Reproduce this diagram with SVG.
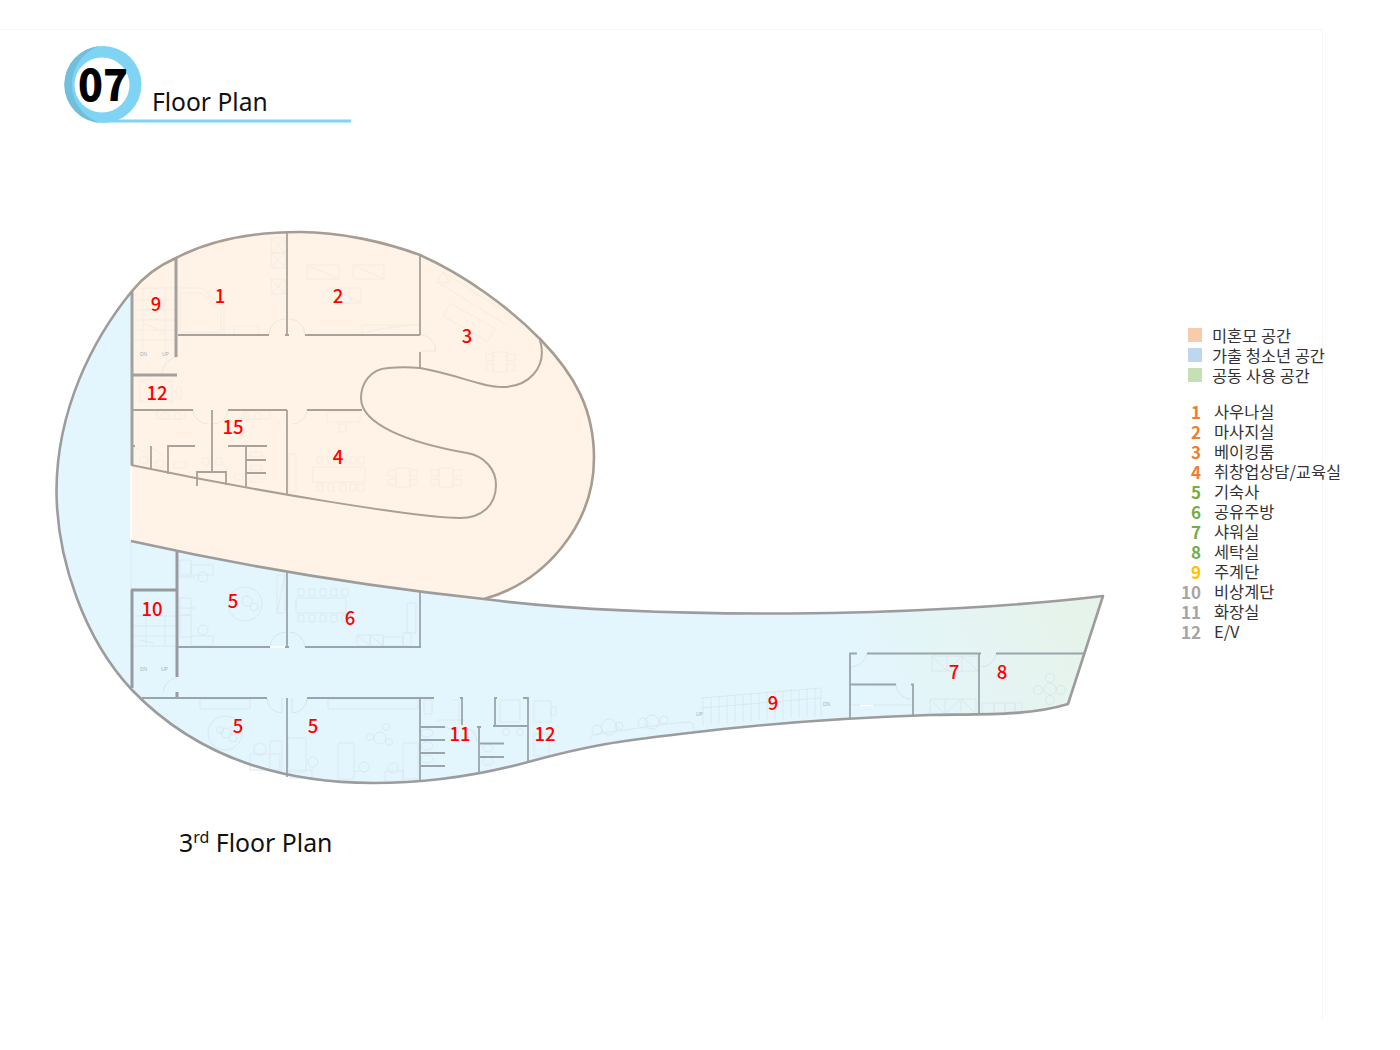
<svg xmlns="http://www.w3.org/2000/svg" width="1400" height="1050" viewBox="0 0 1400 1050">
<defs>
<linearGradient id="blueGreen" gradientUnits="userSpaceOnUse" x1="860" y1="700" x2="1095" y2="590">
<stop offset="0" stop-color="#e3f6fe"/><stop offset="1" stop-color="#e7f3e8"/>
</linearGradient>
<style>
.w1{fill:none;stroke:#a8a29a;stroke-width:1.800}
.w2{fill:none;stroke:#a3a19f;stroke-width:3}
.b1{fill:none;stroke:#99a5ab;stroke-width:1.800}
.b2{fill:none;stroke:#979b9e;stroke-width:3}
.out{fill:none;stroke:#9c9c9c;stroke-width:2.600;stroke-linejoin:round}
.oub{fill:none;stroke:#a69c92;stroke-width:2.600}
.ous{fill:none;stroke:#ab9f94;stroke-width:2}
.fb{fill:none;stroke:#f5ece1;stroke-width:1}
.fl{fill:none;stroke:#d9e8ef;stroke-width:1}
.dr{fill:none;stroke:#f0e6da;stroke-width:1}
.dl{fill:none;stroke:#d6e5ec;stroke-width:1}
.n{font-family:"Noto Sans CJK KR","Noto Sans",sans-serif;font-size:18.500px;font-weight:500;fill:#f00;text-anchor:middle}
.l{font-family:"Noto Sans CJK KR","Noto Sans",sans-serif;font-size:16.400px;fill:#333}
.k{font-family:"Noto Sans CJK KR","Noto Sans",sans-serif;font-size:17px;font-weight:700;text-anchor:end}
.t{font-family:"Noto Sans","Open Sans",sans-serif;fill:#111}
.s{font-family:"Liberation Sans",sans-serif;font-size:5px;fill:#a9b4b9}
</style>
</defs>
<rect width="1400" height="1050" fill="#fff"/>
<path id="page-frame" d="M0 29.500H1322.500V1020" fill="none" stroke="#f6f6f6" stroke-width="1"/>

<g id="heading">
<circle cx="103" cy="84.500" r="38.500" fill="#7fd4f3"/>
<path d="M100 46.100A38.500 38.500 0 0 0 100 122.900A40.300 40.300 0 0 1 100 46.100Z" fill="#70bfdc"/>
<circle cx="102" cy="85" r="27.500" fill="#fff"/>
<rect x="103" y="119.500" width="248" height="3" fill="#7fd4f3"/>
<text x="78" y="101" font-size="44" font-weight="900" fill="#000" style="font-family:'Noto Sans CJK KR','Noto Sans',sans-serif" textLength="50" lengthAdjust="spacingAndGlyphs">07</text>
<text class="t" x="152" y="111" font-size="24.600">Floor Plan</text>
</g>

<g id="plan">
<path id="blue-zone" d="M132 291C92 340 57 410 56.500 490C56.500 560 85 640 132 690C185 745 260 783 373 783C430 783 480 775 528 762C590 745 620 741 680 734C760 724 840 718 930 715C980 714 1030 716 1068 704L1103 596C1020 606 900 613 790 613.500C670 614 560 609 484 599L131 541V291Z" fill="url(#blueGreen)"/>
<path id="beige-zone" d="M131 291C145 273 160 265 176 258C210 240 250 232 300 232C340 232 385 242 420 255C465 275 510 308 541 340C575 375 594 410 594 458C594 525 545 582 484 599C400 590 270 570 131 541Z" fill="#fef3e6"/>
<path d="M131 465V541" stroke="#fff" stroke-width="1.500" fill="none"/>

<g id="furniture-beige">
<path class="fb" d="M271 238h14v15h-14zM271 253h14v15h-14zM271 279h14v15h-14zM271 238l14 15M285 238l-14 15M271 253l14 15M285 253l-14 15M271 279l14 15M285 279l-14 15"/>
<path class="fb" d="M178 288h24l22 20v26h-46zM180 293h21l20 18v21h-41zM234 326h25v9h-25z"/>
<path class="fb" d="M307 265h32v14h-32zM307 265l32 14M353 265h31v14h-31zM353 265l31 14M331 288h30v15h-30zM331 288l30 15M362 325h58v10h-58zM362 333c20 -5 40 -7 58 -8"/>
<path class="fb" d="M436.700 281.700L443.300 272.300L512.700 316.700L506.700 325ZM436.700 281.700L450 283L443.300 272.300M450 303.300L495 328.300L487.700 341.700L443.300 316ZM493 352h14v20h-14zM486 354h7v7h-7zM486 364h7v7h-7zM507 354h8v7h-8zM507 364h8v7h-8z"/>
<path class="fb" d="M396 468h14v19h-14zM439 468h14v19h-14zM396 470h-8v6h8zM396 479h-8v6h8zM410 470h7v6h-7zM410 479h7v6h-7zM439 470h-8v6h8zM439 479h-8v6h8zM453 470h8v6h-8zM453 479h8v6h-8z"/>
<path class="fb" d="M313 467h52v15h-52zM317 457h6v7h-6zM328 457h6v7h-6zM340 457h6v7h-6zM350 457h6v7h-6zM358 457h6v7h-6zM317 484h6v7h-6zM328 484h6v7h-6zM340 484h6v7h-6zM350 484h6v7h-6zM358 484h6v7h-6zM289 454h7v38h-7z"/>
<path class="fb" d="M327 412h33v10h-33zM339 424h7v8h-7z"/>
<path class="fb" d="M140 380h32v22h-32zM140 380l32 22M172 380l-32 22M177 387h4v12h-4z"/>
<path class="fb" d="M157 411h28v8h-28zM245 411h25v8h-25zM276 420l5 7"/>
<circle class="fb" cx="165" cy="416" r="3.500"/><circle class="fb" cx="178" cy="416" r="3.500"/><circle class="fb" cx="245" cy="416" r="3.500"/><circle class="fb" cx="258" cy="416" r="3.500"/>
<path class="fb" d="M140 288h33M143 288v62M165 288v62M134 300h42M134 310h42M134 320h42M134 330h42M134 340h42M143 323l21 9"/>
<path class="fb" d="M140 463h8v-6h-8zM156 467h8v-6h-8zM174 468h12v-6h-12zM203 465h6v-7h-6zM216 465h6v-7h-6zM235 480h8v-6h-8zM250 452h12v5h-12zM250 465h12v5h-12zM250 477h12v5h-12z"/>
<path class="fb" d="M133 447l10 4M151 447l12 8"/>
</g>
<g id="doors-beige">
<path class="dr" d="M269 335A16 16 0 0 1 285 319M305 335A16 16 0 0 0 289 319M177 357A18 18 0 0 0 162 375"/>
<path class="dr" d="M193 410A15 15 0 0 0 208 424M228 410A15 15 0 0 1 213 424M307 410A15 15 0 0 1 292 424M420 335A16 16 0 0 1 436 351H420"/>
</g>

<g id="furniture-blue">
<path class="fl" d="M180 560h11v15h-11zM191 565h22v10h-22zM180 598h11v17h-11zM180 615h11v22h-11zM191 636h22v10h-22zM177 577h18M177 608h18"/>
<circle class="fl" cx="203" cy="577" r="5"/><circle class="fl" cx="203" cy="630" r="5"/>
<circle class="fl" cx="245" cy="604" r="17"/><circle class="fl" cx="247" cy="601" r="5"/><circle class="fl" cx="254" cy="607" r="4"/>
<path class="fl" d="M277 575h8v38h-8zM277 613l8 -38"/>
<path class="fl" d="M296 598h50v15h-50zM298 589h6v7h-6zM309 589h6v7h-6zM320 589h6v7h-6zM331 589h6v7h-6zM342 589h6v7h-6zM298 615h6v7h-6zM309 615h6v7h-6zM320 615h6v7h-6zM331 615h6v7h-6zM342 615h6v7h-6z"/>
<path class="fl" d="M357 635h13v11h-13zM370 635h13v11h-13zM357 635l13 11M370 635l13 11M383 637h20v9h-20zM403 633h8v13h-8zM407 603h9v30h-9z"/>
<path class="fl" d="M131 543v47M132 616h43M146 616v30M165 616v30M132 626h43M132 636h43M132 646h43M139 640l15 3"/>
<path class="fl" d="M200 699h50v10h-50zM328 699h90v10h-90z"/>
<circle class="fl" cx="225" cy="733" r="17"/><circle class="fl" cx="226" cy="733" r="5"/><circle class="fl" cx="233" cy="738" r="4"/><circle class="fl" cx="220" cy="730" r="3.500"/>
<path class="fl" d="M270 741h12v30h-12zM250 754h30v16h-30z"/>
<circle class="fl" cx="260" cy="749" r="6"/>
<path class="fl" d="M288 738h18v34h-18zM290 770h22v8h-22z"/>
<circle class="fl" cx="313" cy="762" r="5"/>
<path class="fl" d="M338 743h16v36h-16zM354 771h6"/><circle class="fl" cx="364" cy="767" r="5"/><circle class="fl" cx="393" cy="768" r="5"/>
<path class="fl" d="M403 743h15v36h-15zM385 771h18v10h-18z"/>
<circle class="fl" cx="380" cy="738" r="6"/><circle class="fl" cx="370" cy="737" r="3.500"/><circle class="fl" cx="386" cy="727" r="3.500"/><circle class="fl" cx="389" cy="742" r="3.500"/>
<path class="fl" d="M424 700h8v14h-8zM437 720h28M453 700h6v24"/>
<ellipse class="fl" cx="427" cy="746" rx="6" ry="4"/><ellipse class="fl" cx="427" cy="733" rx="6" ry="4"/><ellipse class="fl" cx="427" cy="759" rx="6" ry="4"/>
<path class="fl" d="M500 700h20v22h-20zM534 701h17v21h-17zM534 734h15v22h-15zM551 707h5v8h-5z"/>
<circle class="fl" cx="506" cy="732" r="3.500"/><circle class="fl" cx="520" cy="732" r="3.500"/><ellipse class="fl" cx="488" cy="748" rx="5" ry="4"/><ellipse class="fl" cx="488" cy="761" rx="5" ry="4"/>
<circle class="fl" cx="597" cy="730" r="5"/><circle class="fl" cx="609" cy="727" r="8"/><circle class="fl" cx="619" cy="726" r="4"/><circle class="fl" cx="643" cy="723" r="5"/><circle class="fl" cx="652" cy="722" r="7"/><circle class="fl" cx="664" cy="720" r="4"/>
<path class="fl" d="M590 741c0 -8 10 -8 20 -9c25 -3 50 -8 78 -10c6 0 6 6 6 10"/>
<path class="fl" d="M701 698c40 -3 80 -7 120 -10M703 726V698M711 725V697M719 724V697M727 723V696M735 722V695M743 722V694M751 721V693M759 720V692M767 719V691M775 719V691M783 719V690M791 718V689M799 718V689M807 717V688M815 717V687M821 717V688M701 708c40 -3 80 -7 120 -10"/>
<path class="fl" d="M932 656h46v15h-46zM947 656v15M962 656v15M932 656l15 15M947 671l15 -15M962 656l16 15M930 699h46v15h-46zM945 699v15M961 699v15M930 699l15 15M945 714l16 -15M961 699l15 15M982 703h12v11h-12zM994 703h11v11h-11zM1005 703h10v11h-10zM1015 703h7v11h-7zM851 705h62"/>
<path d="M860 705.500h13" stroke="#fff" stroke-width="1.500"/>
<circle class="fl" cx="1050" cy="689" r="6"/><circle class="fl" cx="1050" cy="678" r="4.500"/><circle class="fl" cx="1050" cy="700" r="4.500"/><circle class="fl" cx="1038" cy="690" r="4.500"/><circle class="fl" cx="1061" cy="690" r="4.500"/>
</g>
<g id="doors-blue">
<path class="dl" d="M270 647A16 16 0 0 1 286 632M305 647A16 16 0 0 0 289 632M177 678A15 15 0 0 0 163 692"/>
<path class="dl" d="M267 698A15 15 0 0 0 282 713M307 698A15 15 0 0 1 292 713M282 713V698M292 713V698"/>
<path class="dl" d="M850 667A17 17 0 0 0 867 653.500M981 667A15 15 0 0 0 996 653.500M896 684.500A15 15 0 0 0 911 699"/>
<path class="dl" d="M445 727A15 15 0 0 0 460 727M463 727A15 15 0 0 1 477 742"/>
</g>

<g id="walls-beige">
<path class="w2" d="M132 291V465M176 258V357M133 375H177"/>
<path class="w1" d="M287 232V335M287 410V495M178 335H269M285 335H289M305 335H420M133 410H193M228 410H287M307 410H362M212 410V473M420 255V335M420 352V368"/>
<path class="w1" d="M197 486V472H226V485M135 446H133M151 446V468M168 474V446H195M228 446H267M246 446V487M246 460H266M246 473H266"/>
</g>
<g id="walls-blue">
<path class="b2" d="M177 552V677M177 692V698M131 590H177M132 590V688"/>
<path class="b1" d="M178 647H270M285 647H289M305 647H421M420 592V647M142 698H267M307 698H434M287 573V647M287 698V777M420 698V780"/>
<path d="M270 647h15" stroke="#fff" stroke-width="1.500"/>
<path class="b1" d="M460 698H463M462 698V725M420 727H445M420 740H445M420 753H445M420 766H445M477 727H481M479 727V773M493 726H528M495 726V698H497M523 698H528V762M480 743.500H504M480 757H504"/>
<path class="b1" d="M850 718V653.500H857M867 653.500H981M996 653.500H1084M979 654V714M850 684.500H896M911 684.500H913V716"/>
</g>

<g id="outlines">
<path class="out" d="M132 291C92 340 57 410 56.500 490C56.500 560 85 640 132 690C185 745 260 783 373 783C430 783 480 775 528 762C590 745 620 741 680 734C760 724 840 718 930 715C980 714 1030 716 1068 704L1103 596C1020 606 900 613 790 613.500C670 614 560 609 484 599"/>
<path class="oub" d="M132 291C145 275 160 265 176 258C210 240 250 232 300 232C340 232 385 242 420 255C465 275 510 308 541 340C575 375 594 410 594 458C594 525 545 582 484 599"/>
<path class="out" d="M131 541C270 572 400 590 484 599"/>
<path class="ous" d="M540 340C548 368 528 387 502 387C480 387 460 375 420 368C410 367 398 367 388 368C370 369 361 384 361 398C361 425 410 443 467 453C485 456 496 470 496 485C496 505 482 518 460 518C420 518 260 492 131 465"/>
</g>

<g id="small-marks">
<text class="s" x="140" y="356">DN</text><text class="s" x="162" y="356">UP</text>
<text class="s" x="140" y="671">DN</text><text class="s" x="161" y="671">UP</text>
<text class="s" x="696" y="716">UP</text><text class="s" x="823" y="706">DN</text>
</g>

<g id="room-labels">
<text class="n" x="220" y="303">1</text><text class="n" x="338" y="303">2</text><text class="n" x="467" y="343">3</text><text class="n" x="338" y="464">4</text>
<text class="n" x="156" y="311">9</text><text class="n" x="157" y="400">12</text><text class="n" x="233" y="434">15</text>
<text class="n" x="233" y="608">5</text><text class="n" x="350" y="625">6</text><text class="n" x="152" y="616">10</text>
<text class="n" x="238" y="733">5</text><text class="n" x="313" y="733">5</text><text class="n" x="460" y="741">11</text><text class="n" x="545" y="741">12</text>
<text class="n" x="773" y="710">9</text><text class="n" x="954" y="679">7</text><text class="n" x="1002" y="679">8</text>
</g>
</g>
<text id="caption" class="t" x="179" y="852" font-size="24.800">3<tspan font-size="16" dy="-9">rd</tspan><tspan dy="9"> Floor Plan</tspan></text>

<g id="legend">
<rect x="1188" y="328" width="14" height="14" fill="#f8cbad"/><rect x="1188" y="348" width="14" height="14" fill="#bdd7ee"/><rect x="1188" y="368" width="14" height="14" fill="#c5e0b4"/>
<text class="l" x="1212" y="342">미혼모 공간</text><text class="l" x="1212" y="362">가출 청소년 공간</text><text class="l" x="1212" y="382">공동 사용 공간</text>
<g fill="#ed7d31"><text class="k" x="1201" y="419">1</text><text class="k" x="1201" y="439">2</text><text class="k" x="1201" y="459">3</text><text class="k" x="1201" y="479">4</text></g>
<g fill="#70ad47"><text class="k" x="1201" y="499">5</text><text class="k" x="1201" y="519">6</text><text class="k" x="1201" y="539">7</text><text class="k" x="1201" y="559">8</text></g>
<text class="k" x="1201" y="579" fill="#ffc000">9</text>
<g fill="#a5a5a5"><text class="k" x="1201" y="599">10</text><text class="k" x="1201" y="619">11</text><text class="k" x="1201" y="639">12</text></g>
<text class="l" x="1214" y="418">사우나실</text><text class="l" x="1214" y="438">마사지실</text><text class="l" x="1214" y="458">베이킹룸</text><text class="l" x="1214" y="478">취창업상담/교육실</text><text class="l" x="1214" y="498">기숙사</text><text class="l" x="1214" y="518">공유주방</text><text class="l" x="1214" y="538">샤워실</text><text class="l" x="1214" y="558">세탁실</text><text class="l" x="1214" y="578">주계단</text><text class="l" x="1214" y="598">비상계단</text><text class="l" x="1214" y="618">화장실</text><text class="l" x="1214" y="638">E/V</text>
</g>
</svg>
